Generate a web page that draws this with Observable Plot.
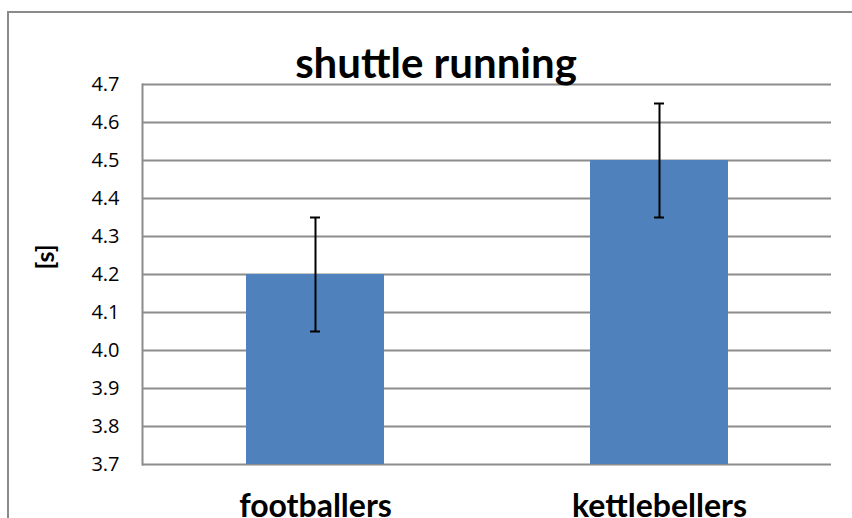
<!DOCTYPE html>
<html>
<head>
<meta charset="utf-8">
<script src="https://cdn.jsdelivr.net/npm/d3@7"></script>
<script src="https://cdn.jsdelivr.net/npm/@observablehq/plot@0.6"></script>
<style>
  html, body { margin: 0; padding: 0; background: #fff; overflow: hidden; }
  #wrap { position: relative; width: 852px; height: 518px; }
  #frame { position: absolute; left: 7px; top: 11px; width: 900px; height: 600px; border: 2px solid #8a8a8a; box-sizing: border-box; }
  #chart { position: absolute; left: 0; top: 0; }
</style>
</head>
<body>
<div id="wrap"><div id="frame"></div><div id="chart"></div></div>
<script>
const categories = ["footballers", "kettlebellers"];
const means = [4.2, 4.5];
const errors = [0.15, 0.15];
const yTicks = [3.7, 3.8, 3.9, 4.0, 4.1, 4.2, 4.3, 4.4, 4.5, 4.6, 4.7];
const titleText = "shuttle running";
const yLabel = "[s]";

const data = categories.map((c, i) => ({cat: c, mean: means[i], lo: means[i] - errors[i], hi: means[i] + errors[i]}));
const font = "Lato, 'Open Sans', sans-serif";

const chart = Plot.plot({
  width: 852,
  height: 518,
  marginTop: 84,
  marginBottom: 54,
  marginLeft: 142,
  marginRight: 21,
  style: {fontFamily: font, background: "transparent", overflow: "visible"},
  x: {domain: categories, paddingInner: 0.6, paddingOuter: 0.3, label: null},
  y: {domain: [3.7, 4.7], label: null},
  marks: [
    Plot.gridY(yTicks, {stroke: "#8c8c8c", strokeOpacity: 1, strokeWidth: 2}),
    Plot.barY(data, {x: "cat", y1: 3.7, y2: "mean", fill: "#4f81bd"}),
    Plot.ruleX(data, {x: "cat", y1: "lo", y2: "hi", stroke: "#000", strokeWidth: 2}),
    Plot.tickY(data, {x: "cat", y: "lo", stroke: "#000", strokeWidth: 2, inset: 64}),
    Plot.tickY(data, {x: "cat", y: "hi", stroke: "#000", strokeWidth: 2, inset: 64}),
    Plot.frame({anchor: "left", stroke: "#8c8c8c", strokeWidth: 2}),
    Plot.axisY({ticks: yTicks, tickFormat: d3.format(".1f"), tickSize: 0, tickPadding: 23, fontSize: 20, fontFamily: "'Open Sans', sans-serif", color: "#000", label: null}),
    Plot.axisX({tickSize: 0, tickPadding: 30, fontSize: 32, fontWeight: "bold", color: "#000", label: null}),
    Plot.text([titleText], {frameAnchor: "top", dx: -51, dy: -36, fontSize: 42, fontWeight: "bold", fill: "#000"}),
    Plot.text([yLabel], {frameAnchor: "left", dx: -97, dy: -5, rotate: -90, fontSize: 25, fontWeight: "bold", fill: "#000"})
  ]
});
document.getElementById("chart").appendChild(chart);
</script>
</body>
</html>
